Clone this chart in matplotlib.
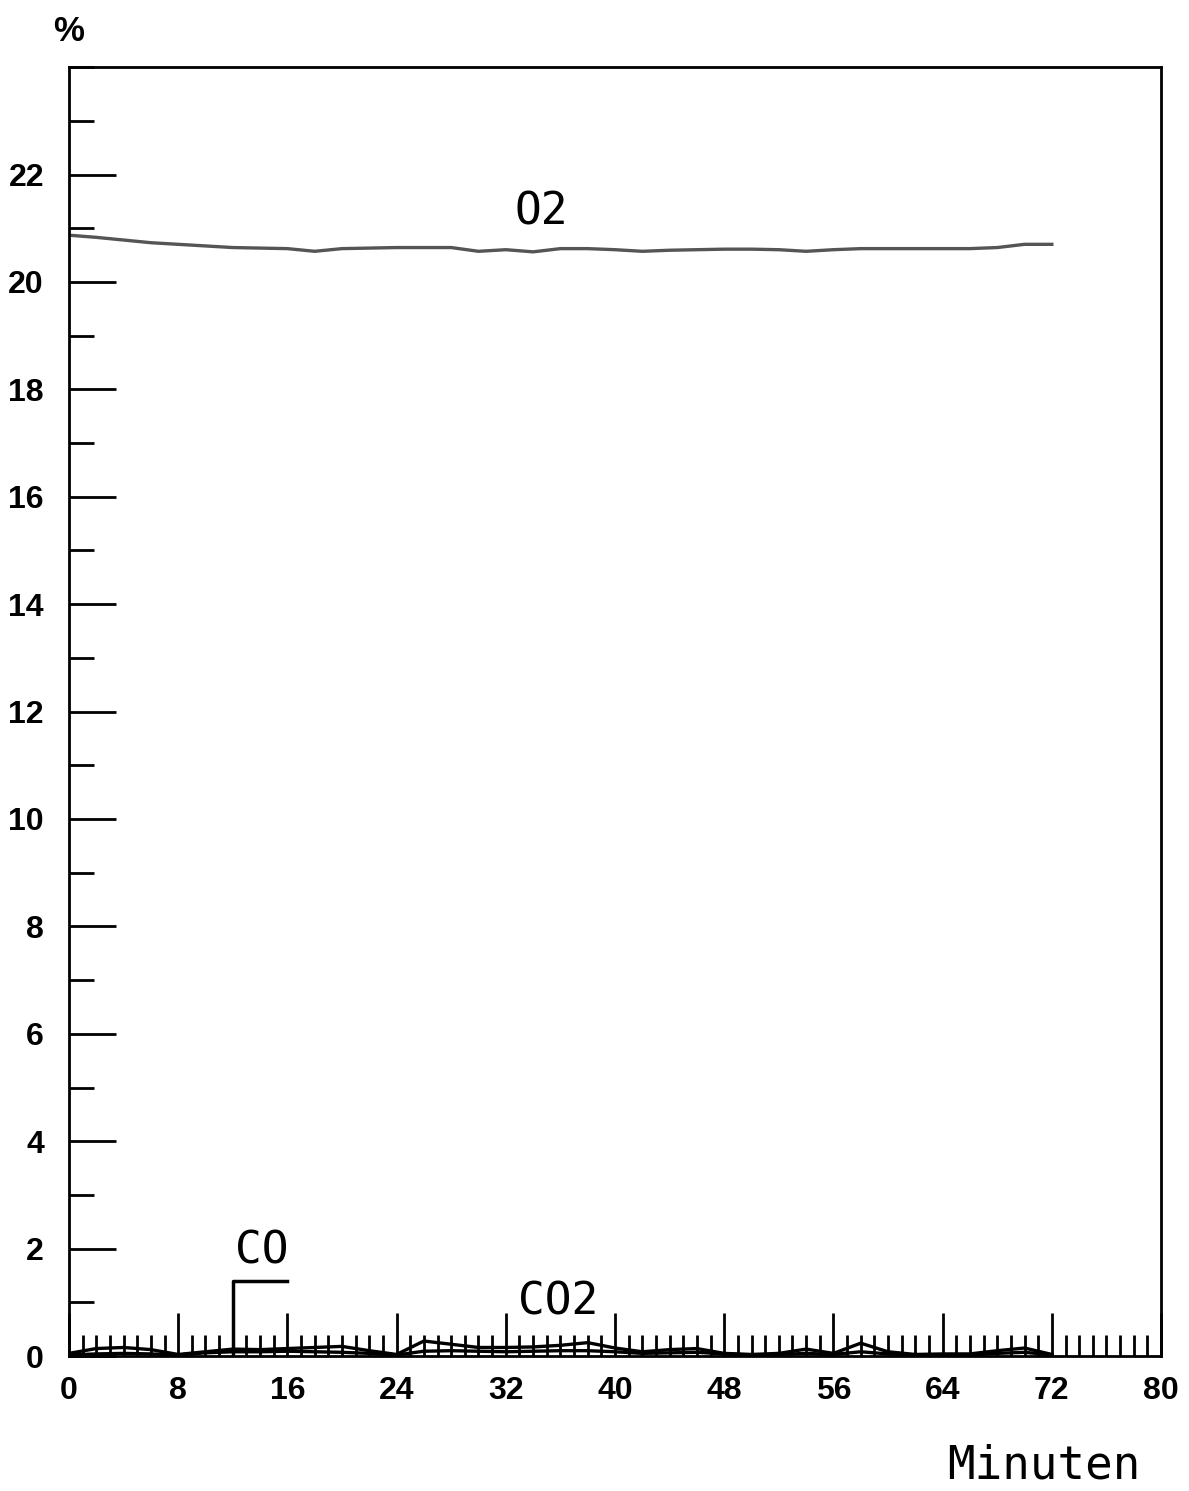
import numpy as np
import matplotlib.pyplot as plt
from matplotlib.ticker import MultipleLocator, FixedLocator

# time axis in minutes (2-minute steps)
minutes = [0, 2, 4, 6, 8, 10, 12, 14, 16, 18, 20, 22, 24, 26, 28, 30, 32, 34, 36,
           38, 40, 42, 44, 46, 48, 50, 52, 54, 56, 58, 60, 62, 64, 66, 68, 70, 72]

o2 = [20.87, 20.83, 20.78, 20.73, 20.70, 20.67, 20.64, 20.63, 20.62, 20.57, 20.62,
      20.63, 20.64, 20.64, 20.64, 20.57, 20.60, 20.56, 20.62, 20.62, 20.60, 20.57,
      20.59, 20.60, 20.61, 20.61, 20.60, 20.57, 20.60, 20.62, 20.62, 20.62, 20.62,
      20.62, 20.64, 20.70, 20.70]

co2 = [0.05, 0.14, 0.16, 0.12, 0.03, 0.08, 0.13, 0.12, 0.14, 0.16, 0.18, 0.10,
       0.03, 0.28, 0.22, 0.16, 0.16, 0.17, 0.20, 0.25, 0.15, 0.08, 0.12, 0.14,
       0.05, 0.03, 0.05, 0.13, 0.05, 0.24, 0.08, 0.03, 0.04, 0.04, 0.10, 0.15, 0.03]

co = [0.02, 0.04, 0.05, 0.04, 0.02, 0.06, 0.08, 0.08, 0.09, 0.08, 0.07, 0.05,
      0.02, 0.09, 0.10, 0.09, 0.08, 0.09, 0.10, 0.10, 0.08, 0.05, 0.06, 0.07,
      0.04, 0.02, 0.03, 0.05, 0.03, 0.08, 0.04, 0.02, 0.02, 0.02, 0.05, 0.07, 0.02]

y_major = [0, 2, 4, 6, 8, 10, 12, 14, 16, 18, 20, 22]

# label anchors (x, y) in data units
o2_label = (34.6, 21.3)
co_label = (14.1, 1.95)
co_leader_x = [12, 12, 16]
co_leader_y = [0, 1.4, 1.4]
co2_label = (35.8, 1.0)

tick_font = 'Liberation Sans'
mono = 'DejaVu Sans Mono'

fig = plt.figure(figsize=(11.89, 14.91), dpi=100)
ax = fig.add_axes([0.058, 0.0905, 0.9185, 0.8645])

ax.plot(minutes, o2, color='#555555', lw=2.4)
ax.plot(minutes, co2, color='black', lw=2.4)
ax.plot(minutes, co, color='black', lw=2.4)
ax.plot(co_leader_x, co_leader_y, color='black', lw=2.5)

ax.text(*o2_label, 'O2', family=mono, fontsize=32, ha='center', va='center')
ax.text(*co_label, 'CO', family=mono, fontsize=32, ha='center', va='center')
ax.text(*co2_label, 'CO2', family=mono, fontsize=32, ha='center', va='center')

ax.set_xlim(0, 80)
ax.set_ylim(0, 24)
ax.xaxis.set_major_locator(MultipleLocator(8))
ax.xaxis.set_minor_locator(MultipleLocator(1))
ax.yaxis.set_major_locator(FixedLocator(y_major))
ax.yaxis.set_minor_locator(MultipleLocator(1))

ax.tick_params(axis='x', which='major', direction='in', length=31, width=2, pad=14)
ax.tick_params(axis='x', which='minor', direction='in', length=15, width=2)
ax.tick_params(axis='y', which='major', direction='in', length=34, width=2, pad=18)
ax.tick_params(axis='y', which='minor', direction='in', length=18, width=2)

for lab in ax.get_xticklabels() + ax.get_yticklabels():
    lab.set_family(tick_font)
    lab.set_fontweight('bold')
    lab.set_fontsize(23)

for sp in ax.spines.values():
    sp.set_linewidth(2)

fig.text(0.058, 0.979, '%', family=tick_font, fontweight='bold', fontsize=25,
         ha='center', va='center')
fig.text(0.878, 0.017, 'Minuten', family=mono, fontsize=33, ha='center', va='center')

fig.savefig('out.png', dpi=100)
